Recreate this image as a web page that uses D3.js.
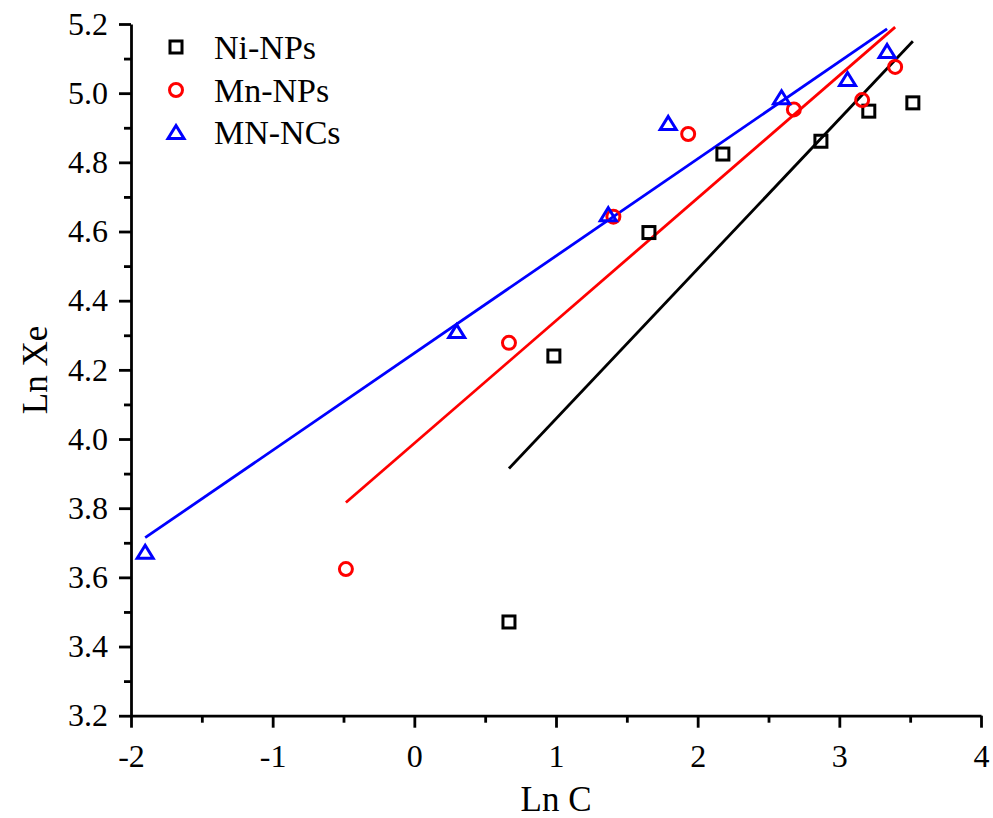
<!DOCTYPE html>
<html>
<head>
<meta charset="utf-8">
<script src="https://cdn.jsdelivr.net/npm/d3@7"></script>
<style>
  html, body { margin: 0; padding: 0; background: #fff; }
  svg { display: block; }
  text { font-family: "Liberation Serif", "Times New Roman", serif; fill: #000; }
</style>
</head>
<body>
<svg id="chart" width="993" height="818"></svg>
<script>
// ---- Data ----
const seriesNames = ["Ni-NPs", "Mn-NPs", "MN-NCs"];
const niX  = [0.668, 0.985, 1.656, 2.178, 2.870, 3.208, 3.519];
const niY  = [3.471, 4.240, 4.597, 4.824, 4.861, 4.948, 4.972];
const mnX  = [-0.483, 0.668, 1.405, 1.933, 2.679, 3.161, 3.394];
const mnY  = [3.624, 4.278, 4.643, 4.882, 4.953, 4.980, 5.076];
const ncX  = [-1.900, 0.299, 1.369, 1.792, 2.592, 3.058, 3.337];
const ncY  = [3.674, 4.312, 4.650, 4.914, 4.988, 5.041, 5.122];
const xTicks = [-2, -1, 0, 1, 2, 3, 4];
const yTicks = [3.2, 3.4, 3.6, 3.8, 4.0, 4.2, 4.4, 4.6, 4.8, 5.0, 5.2];
const xMinorTicks = [-1.5, -0.5, 0.5, 1.5, 2.5, 3.5];
const yMinorTicks = [3.3, 3.5, 3.7, 3.9, 4.1, 4.3, 4.5, 4.7, 4.9, 5.1];
const colors = ["#000000", "#ff0000", "#0000ff"];
const shapes = ["square", "circle", "triangle"];

const series = [
  { name: seriesNames[0], xs: niX, ys: niY, color: colors[0], shape: shapes[0] },
  { name: seriesNames[1], xs: mnX, ys: mnY, color: colors[1], shape: shapes[1] },
  { name: seriesNames[2], xs: ncX, ys: ncY, color: colors[2], shape: shapes[2] }
];

const svg = d3.select("#chart");
const x = d3.scaleLinear().domain([-2, 4]).range([131, 981]);
const y = d3.scaleLinear().domain([3.2, 5.2]).range([715.7, 24]);

// ---- Linear regression fit lines ----
function fit(xs, ys) {
  const mx = d3.mean(xs), my = d3.mean(ys);
  let sxy = 0, sxx = 0;
  xs.forEach((v, i) => { sxy += (v - mx) * (ys[i] - my); sxx += (v - mx) * (v - mx); });
  const b = sxy / sxx, a = my - b * mx;
  const x0 = d3.min(xs), x1 = d3.max(xs);
  return [[x0, a + b * x0], [x1, a + b * x1]];
}
const line = d3.line().x(d => x(d[0])).y(d => y(d[1]));
series.forEach(s => {
  svg.append("path")
    .attr("d", line(fit(s.xs, s.ys)))
    .attr("fill", "none")
    .attr("stroke", s.color)
    .attr("stroke-width", 2.8);
});

// ---- Markers ----
function drawMarker(g, shape, cx, cy, color) {
  if (shape === "square") {
    g.append("rect").attr("x", cx - 6).attr("y", cy - 6).attr("width", 12).attr("height", 12)
      .attr("fill", "none").attr("stroke", color).attr("stroke-width", 3);
  } else if (shape === "circle") {
    g.append("circle").attr("cx", cx).attr("cy", cy).attr("r", 6.5)
      .attr("fill", "none").attr("stroke", color).attr("stroke-width", 3);
  } else {
    const h = 13, w = 16;
    g.append("path")
      .attr("d", `M${cx},${cy - h / 2}L${cx + w / 2},${cy + h / 2}L${cx - w / 2},${cy + h / 2}Z`)
      .attr("fill", "none").attr("stroke", color).attr("stroke-width", 3)
      .attr("stroke-linejoin", "miter");
  }
}
series.forEach(s => {
  const g = svg.append("g");
  s.xs.forEach((v, i) => drawMarker(g, s.shape, x(v), y(s.ys[i]), s.color));
});

// ---- Axes ----
const xAxis = svg.append("g").attr("transform", `translate(0,${y(3.2)})`)
  .call(d3.axisBottom(x).tickValues(xTicks).tickFormat(d3.format("d")).tickSizeInner(12).tickSizeOuter(0).tickPadding(17));
svg.append("g").attr("transform", `translate(0,${y(3.2)})`)
  .call(d3.axisBottom(x).tickValues(xMinorTicks).tickFormat("").tickSizeInner(7).tickSizeOuter(0))
  .select(".domain").remove();
const yAxis = svg.append("g").attr("transform", `translate(${x(-2)},0)`)
  .call(d3.axisLeft(y).tickValues(yTicks).tickFormat(d3.format(".1f")).tickSizeInner(12).tickSizeOuter(0).tickPadding(11));
svg.append("g").attr("transform", `translate(${x(-2)},0)`)
  .call(d3.axisLeft(y).tickValues(yMinorTicks).tickFormat("").tickSizeInner(7).tickSizeOuter(0))
  .select(".domain").remove();

svg.selectAll(".domain").attr("stroke", "#000").attr("stroke-width", 2.8);
svg.selectAll(".tick line").attr("stroke", "#000").attr("stroke-width", 2.8);
svg.selectAll(".tick text").attr("font-family", "Liberation Serif, Times New Roman, serif").attr("font-size", 32).attr("fill", "#000");
xAxis.selectAll(".tick text").text(d => d < 0 ? "-" + Math.abs(d) : d);

// ---- Axis titles ----
svg.append("text").attr("x", 556).attr("y", 811).attr("text-anchor", "middle")
  .attr("font-size", 35).text("Ln C");
svg.append("text").attr("transform", `translate(47,370) rotate(-90)`).attr("text-anchor", "middle")
  .attr("font-size", 35).text("Ln Xe");

// ---- Legend ----
const legendY = [47, 90, 132];
series.forEach((s, i) => {
  const g = svg.append("g");
  drawMarker(g, s.shape, 176, legendY[i], s.color);
  g.append("text").attr("x", 214).attr("y", legendY[i] + 12).attr("font-size", 34).text(s.name);
});
</script>
</body>
</html>
